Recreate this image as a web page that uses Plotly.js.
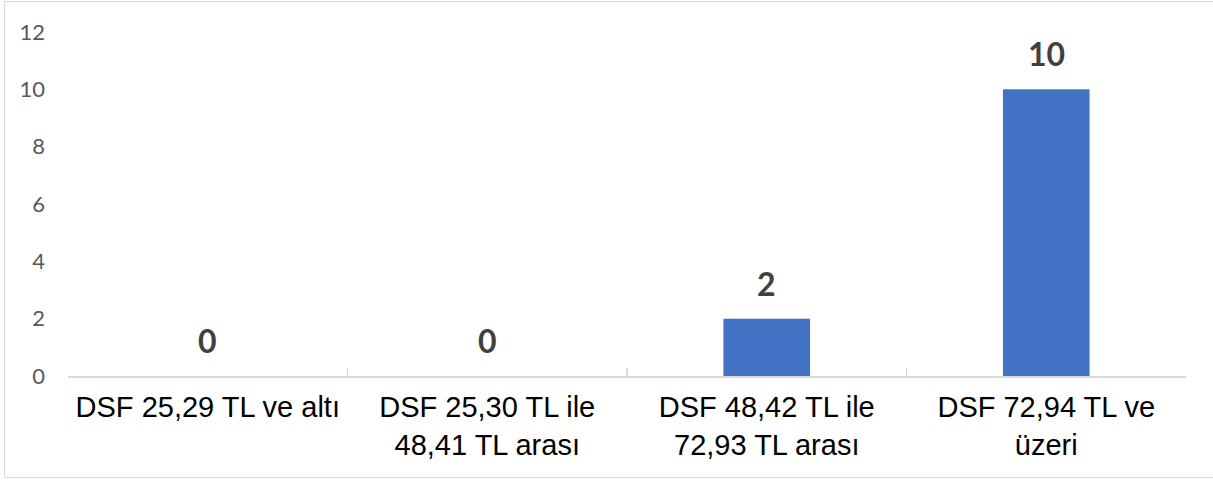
<!DOCTYPE html>
<html>
<head>
<meta charset="utf-8">
<script src="https://cdn.plot.ly/plotly-3.0.1.min.js"></script>
<style>
html,body{margin:0;padding:0;background:#fff;}
#chart{width:1213px;height:480px;position:absolute;left:0;top:0;}
#frame{position:absolute;left:4px;top:1px;width:1215px;height:477px;border:1.5px solid #d9d9d9;pointer-events:none;box-sizing:border-box;}
</style>
</head>
<body>
<div id="chart"></div>
<div id="frame"></div>
<script>
const categories = [
  "DSF 25,29 TL ve altı",
  "DSF 25,30 TL ile<br>48,41 TL arası",
  "DSF 48,42 TL ile<br>72,93 TL arası",
  "DSF 72,94 TL ve<br>üzeri"
];
const values = [0, 0, 2, 10];
const yTicks = [0, 2, 4, 6, 8, 10, 12];

const trace = {
  type: 'bar',
  x: categories,
  y: values,
  marker: {color: '#4472C4'},
  hoverinfo: 'none'
};

const annotations = categories.map((c, i) => ({
  x: c, y: values[i], xref: 'x', yref: 'y',
  text: String(values[i]),
  showarrow: false,
  yanchor: 'bottom',
  yshift: 14,
  font: {family: 'Lato, "Open Sans", sans-serif', size: 32, color: '#404040', weight: 'bold'}
}));

const layout = {
  width: 1213, height: 480,
  margin: {l: 68, r: 27, t: 32, b: 104},
  paper_bgcolor: '#fff', plot_bgcolor: '#fff',
  bargap: 0.69,
  showlegend: false,
  xaxis: {
    type: 'category',
    tickson: 'boundaries',
    ticks: 'inside',
    ticklen: 8,
    tickwidth: 1.5,
    tickcolor: '#d9d9d9',
    showline: true,
    linecolor: '#d9d9d9',
    linewidth: 1.5,
    showgrid: false,
    zeroline: false,
    tickfont: {family: 'Arial, "Liberation Sans", sans-serif', size: 29, color: '#000'},
    ticklabelstandoff: 5,
    fixedrange: true
  },
  yaxis: {
    range: [0, 12],
    tickvals: yTicks,
    ticktext: yTicks.map(String),
    showgrid: false,
    zeroline: false,
    showline: false,
    ticks: '',
    tickfont: {family: 'Lato, "Open Sans", sans-serif', size: 22, color: '#595959'},
    ticklabelstandoff: 22,
    fixedrange: true
  },
  annotations: annotations
};

Plotly.newPlot('chart', [trace], layout, {displayModeBar: false, staticPlot: true});
</script>
</body>
</html>
